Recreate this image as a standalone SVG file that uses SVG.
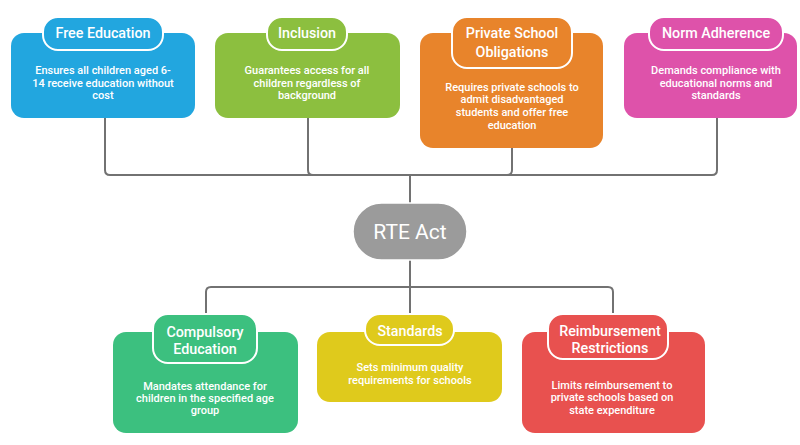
<svg xmlns="http://www.w3.org/2000/svg" width="800" height="445" viewBox="0 0 800 445">
  <style>
    .box { stroke: none; }
    .tab { stroke: #ffffff; stroke-width: 2; }
    .title { font-family: Roboto, "Liberation Sans", sans-serif; font-size: 14.3px; font-weight: 500; fill: #ffffff; text-anchor: middle; }
    .body { font-family: Roboto, "Liberation Sans", sans-serif; font-size: 11px; font-weight: 500; fill: #ffffff; text-anchor: middle; }
    .root { font-family: Roboto, "Liberation Sans", sans-serif; font-size: 21px; font-weight: 400; fill: #ffffff; text-anchor: middle; }
    .link { fill: none; stroke: #727272; stroke-width: 2; }
    .blue { fill: #22a6df; }
    .lime { fill: #8cbf3f; }
    .orange { fill: #e8842b; }
    .pink { fill: #de52aa; }
    .green { fill: #3cc07f; }
    .yellow { fill: #dfca1c; }
    .red { fill: #e8514f; }
  </style>

  <rect width="800" height="445" fill="#ffffff"/>

  <!-- connectors -->
  <g id="connectors">
    <path class="link" d="M105,118 V170 Q105,175 110,175 H712 Q717,175 717,170 V118"/>
    <path class="link" d="M308,118 V170 Q308,175 313,175"/>
    <path class="link" d="M512,148 V170 Q512,175 507,175"/>
    <path class="link" d="M410,175 V204"/>
    <path class="link" d="M410,259 V314"/>
    <path class="link" d="M206,314 V292 Q206,287 211,287 H608 Q613,287 613,292 V314"/>
  </g>

  <!-- central node -->
  <g id="rte-act">
    <rect x="353" y="203" width="114" height="57" rx="28.5" fill="#9b9b9b" stroke="#ffffff" stroke-width="1.5"/>
    <text class="root" x="410" y="239">RTE Act</text>
  </g>

  <!-- top row -->
  <g id="free-education">
    <rect class="box blue" x="11" y="33" width="184" height="85" rx="13"/>
    <rect class="tab blue" x="43" y="17" width="120" height="33" rx="15"/>
    <text class="title" x="103" y="38">Free Education</text>
    <text class="body" x="103" y="74">Ensures all children aged 6-</text>
    <text class="body" x="103" y="87">14 receive education without</text>
    <text class="body" x="103" y="99">cost</text>
  </g>

  <g id="inclusion">
    <rect class="box lime" x="215" y="33" width="185" height="85" rx="13"/>
    <rect class="tab lime" x="267" y="17" width="80" height="33" rx="15"/>
    <text class="title" x="307" y="38">Inclusion</text>
    <text class="body" x="307" y="74">Guarantees access for all</text>
    <text class="body" x="307" y="87">children regardless of</text>
    <text class="body" x="307" y="99">background</text>
  </g>

  <g id="private-school-obligations">
    <rect class="box orange" x="420" y="33" width="183" height="115" rx="13"/>
    <rect class="tab orange" x="452" y="17" width="120" height="51" rx="15"/>
    <text class="title" x="512" y="38">Private School</text>
    <text class="title" x="512" y="57">Obligations</text>
    <text class="body" x="512" y="91">Requires private schools to</text>
    <text class="body" x="512" y="103">admit disadvantaged</text>
    <text class="body" x="512" y="116">students and offer free</text>
    <text class="body" x="512" y="129">education</text>
  </g>

  <g id="norm-adherence">
    <rect class="box pink" x="624" y="33" width="173" height="85" rx="13"/>
    <rect class="tab pink" x="649" y="17" width="134" height="33" rx="15"/>
    <text class="title" x="716" y="38">Norm Adherence</text>
    <text class="body" x="716" y="74">Demands compliance with</text>
    <text class="body" x="716" y="87">educational norms and</text>
    <text class="body" x="716" y="99">standards</text>
  </g>

  <!-- bottom row -->
  <g id="compulsory-education">
    <rect class="box green" x="113" y="332" width="185" height="101" rx="13"/>
    <rect class="tab green" x="153" y="314" width="104" height="49" rx="15"/>
    <text class="title" x="205" y="337">Compulsory</text>
    <text class="title" x="205" y="354">Education</text>
    <text class="body" x="205" y="390">Mandates attendance for</text>
    <text class="body" x="205" y="402">children in the specified age</text>
    <text class="body" x="205" y="414">group</text>
  </g>

  <g id="standards">
    <rect class="box yellow" x="317" y="332" width="185" height="70" rx="13"/>
    <rect class="tab yellow" x="365" y="314" width="89" height="31" rx="15"/>
    <text class="title" x="410" y="336">Standards</text>
    <text class="body" x="410" y="371">Sets minimum quality</text>
    <text class="body" x="410" y="384">requirements for schools</text>
  </g>

  <g id="reimbursement-restrictions">
    <rect class="box red" x="522" y="332" width="183" height="101" rx="13"/>
    <rect class="tab red" x="548" y="314" width="120" height="45" rx="15"/>
    <text class="title" x="610" y="336">Reimbursement</text>
    <text class="title" x="610" y="353">Restrictions</text>
    <text class="body" x="612" y="389">Limits reimbursement to</text>
    <text class="body" x="612" y="401">private schools based on</text>
    <text class="body" x="612" y="414">state expenditure</text>
  </g>
</svg>
